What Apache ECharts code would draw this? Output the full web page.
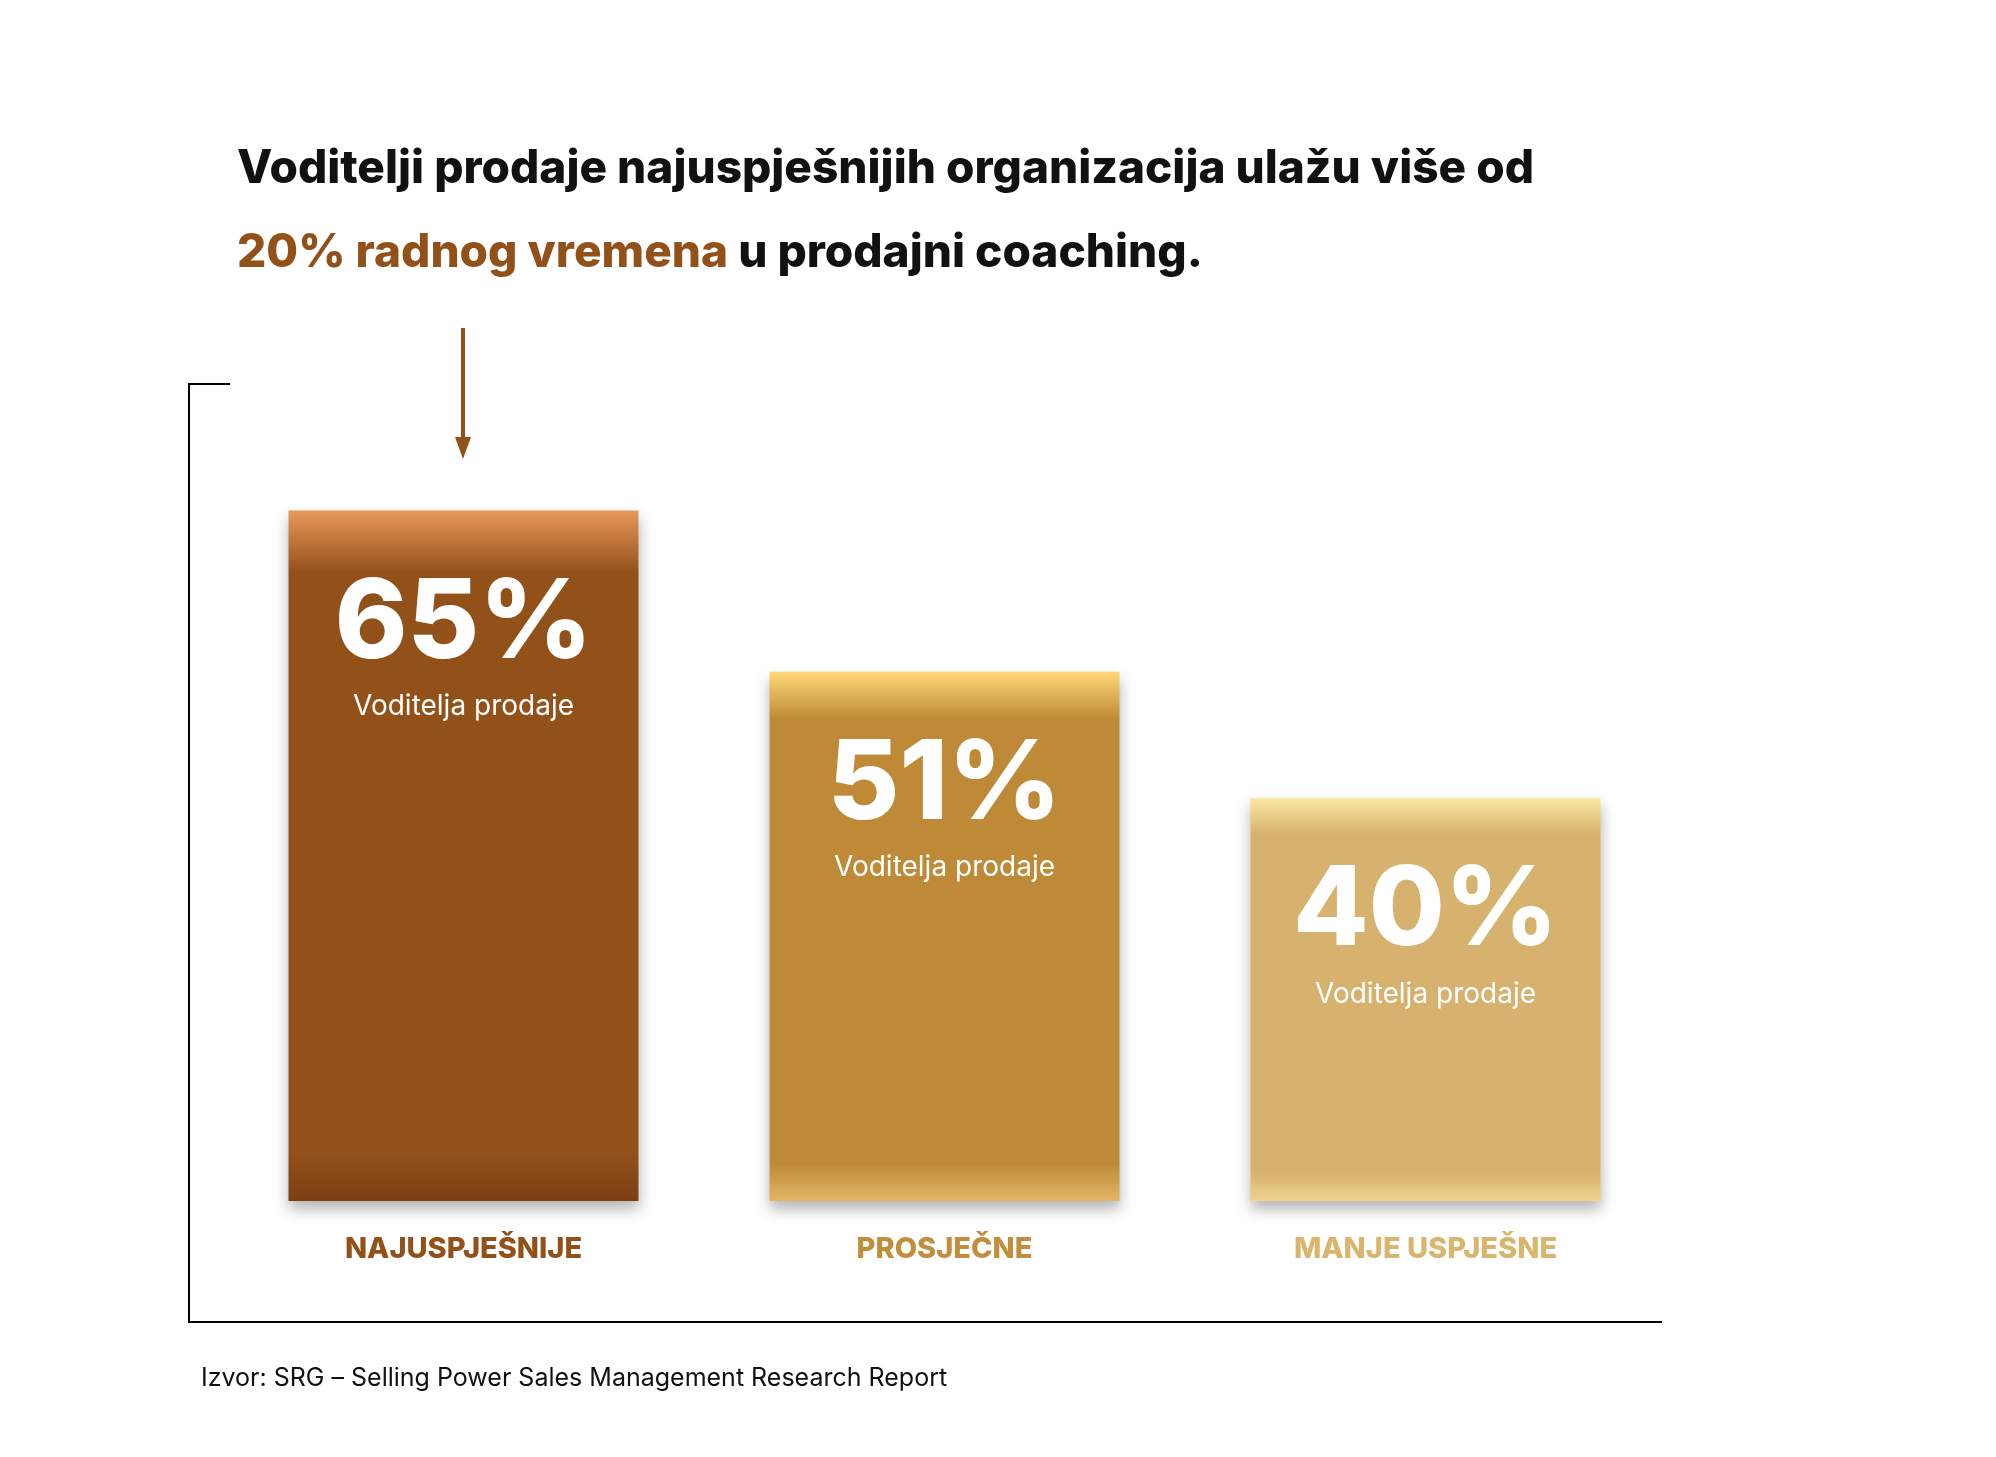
<!DOCTYPE html>
<html>
<head>
<meta charset="utf-8">
<script src="https://cdn.jsdelivr.net/npm/echarts@6/dist/echarts.min.js"></script>
<style>
  html, body { margin: 0; padding: 0; background: #fff; }
  #chart { width: 1996px; height: 1457px; }
</style>
</head>
<body>
<div id="chart"></div>
<script>
const categories = ['NAJUSPJEŠNIJE', 'PROSJEČNE', 'MANJE USPJEŠNE'];
const values = [65, 51, 40];
const subLabel = 'Voditelja prodaje';
const labelColors = ['#93511A', '#C28E3C', '#D9B56E'];
const barColors = [
  ['#E8995A', '#93511A', '#93511A', '#7A3F12'],
  ['#FFD878', '#BE8A38', '#BE8A38', '#E3B665'],
  ['#FBE7A0', '#D6B26E', '#D6B26E', '#F2D48F']
];

const font = 'Inter, "Open Sans", sans-serif';
let chart = echarts.init(document.getElementById('chart'));

function barColor(c) {
  return {
    type: 'linear', x: 0, y: 0, x2: 0, y2: 1,
    colorStops: [
      { offset: 0, color: c[0] },
      { offset: 0.09, color: c[1] },
      { offset: 0.93, color: c[2] },
      { offset: 1, color: c[3] }
    ]
  };
}

chart.setOption({
  animation: false,
  title: {
    left: 232, top: 122,
    text: '{a|Voditelji prodaje najuspješnijih organizacija ulažu više od}\n{b|20% radnog vremena}{a| u prodajni coaching.}',
    textStyle: {
      rich: {
        a: { fontFamily: font, fontSize: 46, fontWeight: 800, color: '#111', lineHeight: 84 },
        b: { fontFamily: font, fontSize: 46, fontWeight: 800, color: '#93511A', lineHeight: 84 }
      }
    }
  },
  grid: { left: 223, right: 330, top: 453, bottom: 256 },
  xAxis: {
    type: 'category',
    data: categories,
    axisLine: { show: false },
    axisTick: { show: false },
    axisLabel: {
      margin: 34,
      fontFamily: font, fontSize: 29, fontWeight: 800,
      color: (v, i) => labelColors[i]
    }
  },
  yAxis: {
    type: 'value', min: 5, max: 70,
    show: false
  },
  series: [{
    type: 'bar',
    barWidth: 350,
    data: values.map((v, i) => ({
      value: v,
      itemStyle: {
        color: barColor(barColors[i]),
        shadowColor: 'rgba(0,0,0,0.3)', shadowBlur: 14, shadowOffsetY: 8
      }
    })),
    label: {
      show: true,
      position: 'insideTop',
      distance: 54,
      formatter: p => '{a|' + p.value + '%}\n{b|' + subLabel + '}',
      rich: {
        a: { fontFamily: font, fontSize: 110, fontWeight: 800, color: '#fff', lineHeight: 120 },
        b: { fontFamily: font, fontSize: 28, color: '#fff', lineHeight: 44 }
      }
    }
  }],
  graphic: [
    { type: 'polyline', shape: { points: [[230, 384], [189, 384], [189, 1322], [1662, 1322]] },
      style: { stroke: '#000', lineWidth: 2, fill: null } },
    { type: 'line', shape: { x1: 463, y1: 328, x2: 463, y2: 440 },
      style: { stroke: '#93511A', lineWidth: 4 } },
    { type: 'polygon', shape: { points: [[455, 437], [471, 437], [463, 459]] },
      style: { fill: '#93511A' } },
    { type: 'text', left: 201, top: 1366,
      style: { text: 'Izvor: SRG – Selling Power Sales Management Research Report',
        font: '25px ' + font, fill: '#111' } }
  ]
});
</script>
</body>
</html>
